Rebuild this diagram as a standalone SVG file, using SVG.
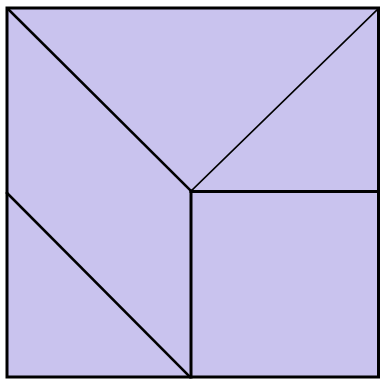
<svg xmlns="http://www.w3.org/2000/svg" width="383" height="379" viewBox="0 0 383 379">
<style>
.ln{stroke:#000;fill:none;stroke-linecap:square}
.sq{stroke:#000;fill:#c9c3ee;stroke-width:3}
</style>
<rect x="0" y="0" width="383" height="379" fill="#fff"/>
<rect class="sq" x="7" y="8" width="371.5" height="369"/>
<line class="ln" x1="8" y1="9" x2="191" y2="191" stroke-width="2.6"/>
<line class="ln" x1="191" y1="191" x2="378" y2="9" stroke-width="1.6"/>
<line class="ln" x1="191" y1="191" x2="191" y2="377" stroke-width="3"/>
<line class="ln" x1="191" y1="191.5" x2="378" y2="191.5" stroke-width="3"/>
<line class="ln" x1="7" y1="193" x2="190" y2="377" stroke-width="2.6"/>
</svg>
